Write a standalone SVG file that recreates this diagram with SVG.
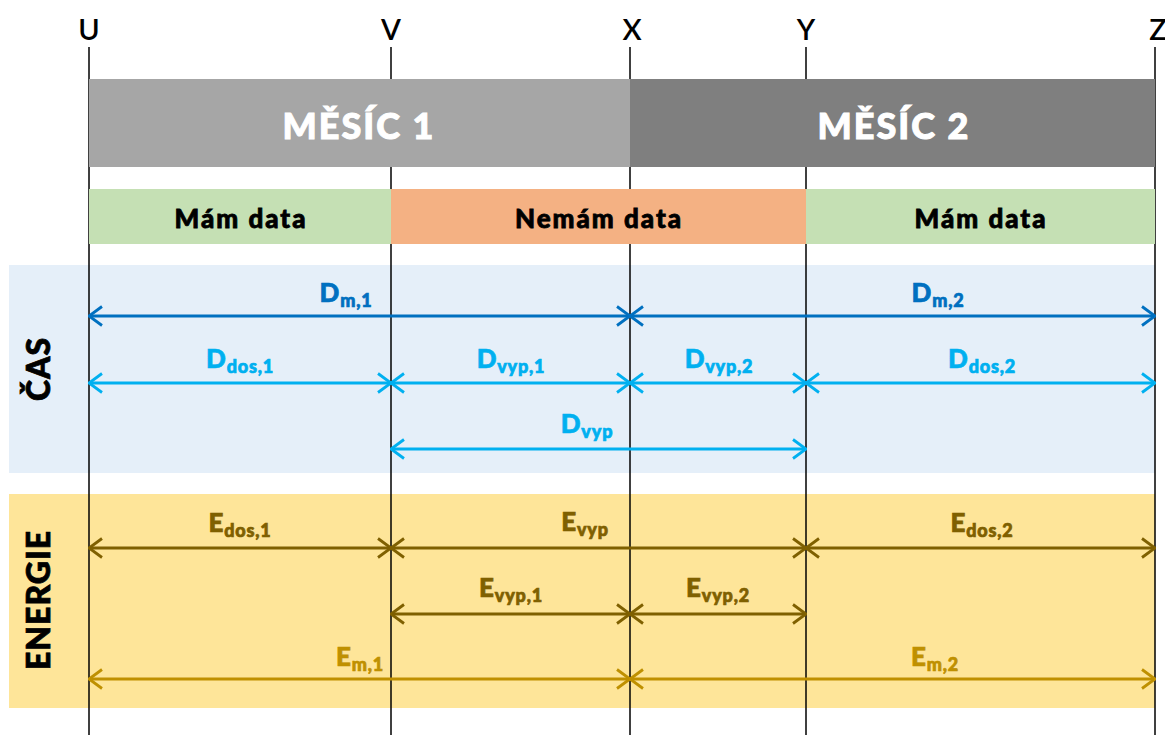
<svg xmlns="http://www.w3.org/2000/svg" width="1165" height="735" viewBox="0 0 1165 735">
<style>
  text { font-family: Lato, "Open Sans", "Liberation Sans", sans-serif; }
  .pt { font-size: 29px; font-weight: 600; fill: #000; text-anchor: middle; }
  .month { font-size: 36px; font-weight: 900; fill: #fff; stroke: #fff; stroke-width: 1; text-anchor: middle; letter-spacing: 2px; }
  .data { font-size: 26px; font-weight: 900; fill: #000; stroke: #000; stroke-width: 0.8; text-anchor: middle; letter-spacing: 2px; }
  .side { font-size: 32px; font-weight: 900; fill: #000; stroke: #000; stroke-width: 0.8; text-anchor: middle; letter-spacing: 1px; }
  .lbl { font-size: 26px; font-weight: 900; text-anchor: middle; letter-spacing: 0.8px; stroke-width: 0.7; }
  .sub { font-size: 18px; }
  .vline { stroke: #000; stroke-width: 1.5; }
  .arr { stroke-width: 3; fill: none; }
  .dm { stroke: #0070c0; marker-start: url(#mDm); marker-end: url(#mDm); }
  .dd { stroke: #00b0f0; marker-start: url(#mDd); marker-end: url(#mDd); }
  .ed { stroke: #7f6000; marker-start: url(#mEd); marker-end: url(#mEd); }
  .em { stroke: #bf9000; marker-start: url(#mEm); marker-end: url(#mEm); }
  .tdm { fill: #0070c0; stroke: #0070c0; }
  .tdd { fill: #00b0f0; stroke: #00b0f0; }
  .ted { fill: #7f6000; stroke: #7f6000; }
  .tem { fill: #bf9000; stroke: #bf9000; }
</style>
<defs>
  <marker id="mDm" viewBox="0 0 15 22" refX="14" refY="11" markerWidth="15" markerHeight="22" markerUnits="userSpaceOnUse" orient="auto-start-reverse"><path d="M1,1.5 L14,11 L1,20.5" fill="none" stroke="#0070c0" stroke-width="2.8"/></marker>
  <marker id="mDd" viewBox="0 0 15 22" refX="14" refY="11" markerWidth="15" markerHeight="22" markerUnits="userSpaceOnUse" orient="auto-start-reverse"><path d="M1,1.5 L14,11 L1,20.5" fill="none" stroke="#00b0f0" stroke-width="2.8"/></marker>
  <marker id="mEd" viewBox="0 0 15 22" refX="14" refY="11" markerWidth="15" markerHeight="22" markerUnits="userSpaceOnUse" orient="auto-start-reverse"><path d="M1,1.5 L14,11 L1,20.5" fill="none" stroke="#7f6000" stroke-width="2.8"/></marker>
  <marker id="mEm" viewBox="0 0 15 22" refX="14" refY="11" markerWidth="15" markerHeight="22" markerUnits="userSpaceOnUse" orient="auto-start-reverse"><path d="M1,1.5 L14,11 L1,20.5" fill="none" stroke="#bf9000" stroke-width="2.8"/></marker>
</defs>
<rect width="1165" height="735" fill="#fff"/>

<g id="band-cas">
  <rect x="9" y="265" width="1146" height="208" fill="#e5eff9"/>
  <text class="side" transform="rotate(-90 50 369)" x="50" y="369">ČAS</text>
</g>
<g id="band-energie">
  <rect x="9" y="494" width="1146" height="214" fill="#fee599"/>
  <text class="side" transform="rotate(-90 50 600)" x="50" y="600">ENERGIE</text>
</g>

<g id="timeline">
  <line class="vline" x1="89" y1="47" x2="89" y2="735"/>
  <line class="vline" x1="391" y1="47" x2="391" y2="735"/>
  <line class="vline" x1="630" y1="47" x2="630" y2="735"/>
  <line class="vline" x1="806" y1="47" x2="806" y2="735"/>
  <line class="vline" x1="1155" y1="47" x2="1155" y2="735"/>
  <text class="pt" x="89" y="40">U</text>
  <text class="pt" x="391" y="40">V</text>
  <text class="pt" x="632" y="40">X</text>
  <text class="pt" x="806" y="40">Y</text>
  <text class="pt" x="1158" y="40">Z</text>
</g>

<g id="month1">
  <rect x="89" y="79" width="541" height="88" fill="#a6a6a6"/>
  <text class="month" x="359" y="139">MĚSÍC 1</text>
</g>
<g id="month2">
  <rect x="630" y="79" width="525" height="88" fill="#7f7f7f"/>
  <text class="month" x="894" y="139">MĚSÍC 2</text>
</g>

<g id="data1">
  <rect x="89" y="189" width="302" height="55" fill="#c5e0b4"/>
  <text class="data" x="241" y="228">Mám data</text>
</g>
<g id="nodata">
  <rect x="391" y="189" width="415" height="55" fill="#f4b183"/>
  <text class="data" x="599" y="228">Nemám data</text>
</g>
<g id="data2">
  <rect x="806" y="189" width="349" height="55" fill="#c5e0b4"/>
  <text class="data" x="981" y="228">Mám data</text>
</g>

<g id="connectors">
  <line class="arr dm" x1="89" y1="316" x2="630" y2="316"/>
  <line class="arr dm" x1="630" y1="316" x2="1155" y2="316"/>
  <line class="arr dd" x1="89" y1="383" x2="391" y2="383"/>
  <line class="arr dd" x1="391" y1="383" x2="630" y2="383"/>
  <line class="arr dd" x1="630" y1="383" x2="806" y2="383"/>
  <line class="arr dd" x1="806" y1="383" x2="1155" y2="383"/>
  <line class="arr dd" x1="391" y1="449" x2="806" y2="449"/>
  <line class="arr ed" x1="89" y1="548" x2="391" y2="548"/>
  <line class="arr ed" x1="391" y1="548" x2="806" y2="548"/>
  <line class="arr ed" x1="806" y1="548" x2="1155" y2="548"/>
  <line class="arr ed" x1="391" y1="614" x2="630" y2="614"/>
  <line class="arr ed" x1="630" y1="614" x2="806" y2="614"/>
  <line class="arr em" x1="89" y1="679" x2="630" y2="679"/>
  <line class="arr em" x1="630" y1="679" x2="1155" y2="679"/>
</g>

<g id="labels">
  <text class="lbl tdm" x="346" y="302">D<tspan class="sub" dy="5">m,1</tspan></text>
  <text class="lbl tdm" x="938" y="302">D<tspan class="sub" dy="5">m,2</tspan></text>
  <text class="lbl tdd" x="240" y="368">D<tspan class="sub" dy="5">dos,1</tspan></text>
  <text class="lbl tdd" x="511" y="368">D<tspan class="sub" dy="5">vyp,1</tspan></text>
  <text class="lbl tdd" x="719" y="368">D<tspan class="sub" dy="5">vyp,2</tspan></text>
  <text class="lbl tdd" x="982" y="368">D<tspan class="sub" dy="5">dos,2</tspan></text>
  <text class="lbl tdd" x="587" y="433">D<tspan class="sub" dy="5">vyp</tspan></text>
  <text class="lbl ted" x="240" y="532">E<tspan class="sub" dy="5">dos,1</tspan></text>
  <text class="lbl ted" x="585" y="531">E<tspan class="sub" dy="5">vyp</tspan></text>
  <text class="lbl ted" x="982" y="532">E<tspan class="sub" dy="5">dos,2</tspan></text>
  <text class="lbl ted" x="511" y="597">E<tspan class="sub" dy="5">vyp,1</tspan></text>
  <text class="lbl ted" x="718" y="597">E<tspan class="sub" dy="5">vyp,2</tspan></text>
  <text class="lbl tem" x="360" y="666">E<tspan class="sub" dy="5">m,1</tspan></text>
  <text class="lbl tem" x="935" y="666">E<tspan class="sub" dy="5">m,2</tspan></text>
</g>
</svg>
